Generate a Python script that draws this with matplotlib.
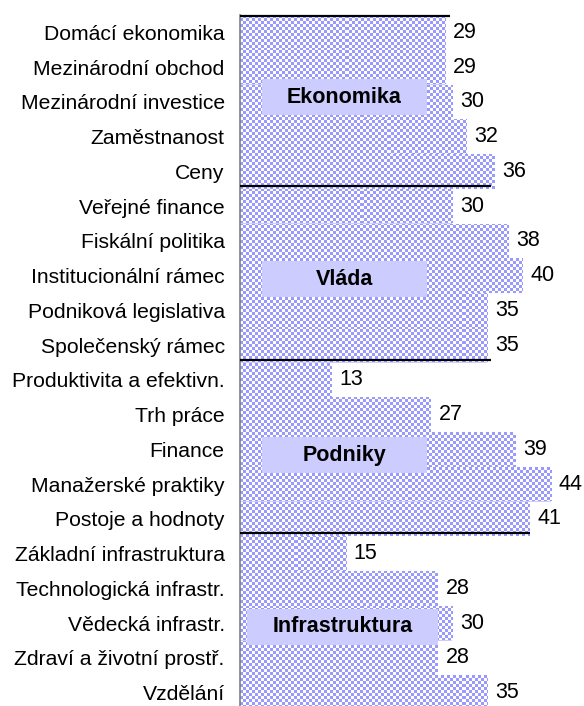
import numpy as np
import matplotlib
matplotlib.use("Agg")
import matplotlib.pyplot as plt
from matplotlib.patches import Rectangle

categories = [
    "Domácí ekonomika", "Mezinárodní obchod", "Mezinárodní investice", "Zaměstnanost", "Ceny",
    "Veřejné finance", "Fiskální politika", "Institucionální rámec", "Podniková legislativa", "Společenský rámec",
    "Produktivita a efektivn.", "Trh práce", "Finance", "Manažerské praktiky", "Postoje a hodnoty",
    "Základní infrastruktura", "Technologická infrastr.", "Vědecká infrastr.", "Zdraví a životní prostř.", "Vzdělání",
]
values = [29, 29, 30, 32, 36,
          30, 38, 40, 35, 35,
          13, 27, 39, 44, 41,
          15, 28, 30, 28, 35]
groups = ["Ekonomika", "Vláda", "Podniky", "Infrastruktura"]
separator_ends = [29.7, 35.5, 35.5, 41.0]

plt.rcParams['font.family'] = ['Liberation Sans', 'DejaVu Sans']

W, H = 584, 706
fig = plt.figure(figsize=(W / 100, H / 100), dpi=100)
ax_left, ax_top = 240, 15
ax_w, ax_h = W - ax_left, H - ax_top
ax = fig.add_axes([ax_left / W, 0, ax_w / W, ax_h / H])

row_px = 34.75
px_per_unit = 7.07
y = np.arange(len(categories))
bars = ax.barh(y, values, height=1.0, color='#CCCCFF', edgecolor='none', zorder=1)

# checkerboard fill clipped to each bar
cell = 3
ny, nx = ax_h // cell + 1, ax_w // cell + 1
chk = (np.indices((ny, nx)).sum(axis=0) % 2).astype(float)
rgb = np.where(chk[..., None] == 1, np.array([153, 153, 255]) / 255, np.array([1.0, 1.0, 1.0]))
for b in bars:
    im = ax.imshow(rgb, extent=(0, nx * cell / px_per_unit, -0.5 + ny * cell / row_px, -0.5),
                   interpolation='nearest', aspect='auto', zorder=2)
    im.set_clip_path(b)
ax.set_xlim(0, ax_w / px_per_unit)
ax.set_ylim(-0.5 + ax_h / row_px, -0.5)

# value labels
for yi, v in zip(y, values):
    ax.text(v + 1.1, yi, str(v), va='center', ha='left', fontsize=15.5, color='black', zorder=5)

# separators
n_per = 5
for gi, xe in enumerate(separator_ends):
    yb = gi * n_per - 0.5 - (0.08 if gi > 0 else -0.03)
    ax.plot([0, xe], [yb, yb], color='black', lw=1.6, zorder=4, solid_capstyle='butt', clip_on=False)

# group label boxes
box_specs = [(3.1, 26.4, 1.87), (3.1, 26.4, 7.1), (3.1, 26.4, 12.17), (1.0, 28.0, 17.1)]
for name, (x0, x1, yc) in zip(groups, box_specs):
    ax.add_patch(Rectangle((x0, yc - 0.52), x1 - x0, 1.04, facecolor='#CCCCFF', edgecolor='none', zorder=3))
    ax.text((x0 + x1) / 2, yc, name, ha='center', va='center', fontsize=15.5, fontweight='bold', zorder=6)

ax.set_yticks(y)
ax.set_yticklabels(categories, fontsize=15.2)
ax.tick_params(axis='y', length=0, pad=11)
ax.set_xticks([])
for s in ['top', 'right', 'bottom']:
    ax.spines[s].set_visible(False)
ax.spines['left'].set_color('#808080')
ax.spines['left'].set_linewidth(1.2)
ax.set_facecolor('none')

fig.savefig('out.png', dpi=100)
